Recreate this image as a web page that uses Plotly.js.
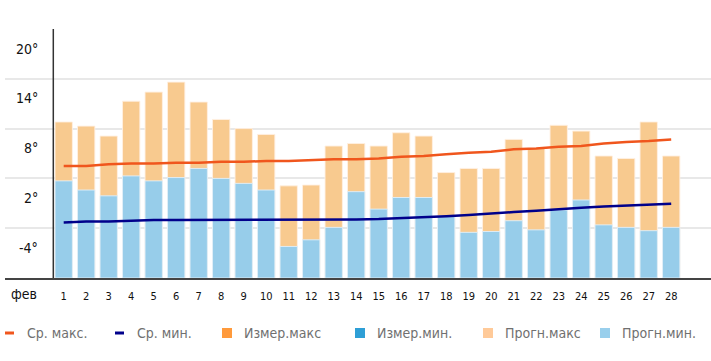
<!DOCTYPE html>
<html>
<head>
<meta charset="utf-8">
<script src="https://cdn.plot.ly/plotly-3.0.1.min.js"></script>
<style>html,body{margin:0;padding:0;background:#fff;}#chart{width:711px;height:361px;}</style>
</head>
<body>
<div id="chart"></div>
<script>
// ---- data ----
const days = [1,2,3,4,5,6,7,8,9,10,11,12,13,14,15,16,17,18,19,20,21,22,23,24,25,26,27,28];
const dayLabels = ["1","2","3","4","5","6","7","8","9","10","11","12","13","14","15","16","17","18","19","20","21","22","23","24","25","26","27","28"];
const monthLabel = "фев";
const forecastMax = [8.8,8.3,7.1,11.3,12.4,13.6,11.2,9.1,8.0,7.3,1.1,1.2,5.9,6.2,5.9,7.5,7.1,2.7,3.2,3.2,6.7,5.6,8.4,7.7,4.7,4.4,8.8,4.7];
const forecastMin = [1.7,0.6,-0.1,2.3,1.7,2.1,3.2,2.0,1.4,0.6,-6.2,-5.4,-3.9,0.4,-1.7,-0.3,-0.3,-2.5,-4.5,-4.4,-3.1,-4.2,-1.8,-0.6,-3.6,-3.9,-4.3,-3.9];
const avgMax = [3.5,3.5,3.7,3.8,3.8,3.9,3.9,4.0,4.0,4.1,4.1,4.2,4.3,4.3,4.4,4.6,4.7,4.9,5.1,5.2,5.5,5.6,5.8,5.9,6.2,6.4,6.5,6.7];
const avgMin = [-3.3,-3.2,-3.2,-3.1,-3.0,-3.0,-3.0,-3.0,-3.0,-3.0,-2.95,-2.95,-2.95,-2.95,-2.9,-2.8,-2.7,-2.55,-2.4,-2.2,-2.05,-1.9,-1.7,-1.55,-1.4,-1.3,-1.15,-1.05];
const yTicks = [20,14,8,2,-4];
const yTickLabels = ["20°","14°","8°","2°","-4°"];
const legendLabels = ["Ср. макс.","Ср. мин.","Измер.макс","Измер.мин.","Прогн.макс","Прогн.мин."];
const legendColors = ["#f0561d","#00008b","#ff9a3c","#2e9fd6","#ffca99","#99cfec"];
const legendKinds = ["line","line","box","box","box","box"];

// ---- layout constants ----
const W = 711, H = 361;
const M = {l:5, r:0, t:29, b:83};
const plotW = W - M.l - M.r, plotH = H - M.t - M.b;
const yMin = -10, yMax = 20;
const xMin = -1.609, xMax = xMin + plotW/22.5;
const FONT = "'DejaVu Sans Condensed', 'Liberation Sans Narrow', sans-serif";
const px2x = px => (px - M.l)/plotW;
const py2y = py => (H - M.b - py)/plotH;

const base = days.map(() => yMin);

const traces = [
  {type:'bar', x:days, y:forecastMax.map(v => v - yMin), base:base,
   marker:{color:'#f8ca8f', line:{color:'rgba(255,240,225,0.9)', width:1}}, hoverinfo:'skip', showlegend:false},
  {type:'bar', x:days, y:forecastMin.map(v => v - yMin), base:base,
   marker:{color:'#97cdea', line:{color:'rgba(225,240,250,0.9)', width:1}}, hoverinfo:'skip', showlegend:false},
  {type:'scatter', mode:'lines', x:days, y:avgMax, line:{color:'#f0561d', width:2.5}, hoverinfo:'skip', showlegend:false},
  {type:'scatter', mode:'lines', x:days, y:avgMin, line:{color:'#00008b', width:2.5}, hoverinfo:'skip', showlegend:false}
];

const annotations = [];
const shapes = [];

// y tick labels (drawn between gridlines like the original)
yTicks.forEach((v,i) => {
  annotations.push({xref:'paper', yref:'y', x:px2x(40), y:v - 2.35, xanchor:'right', yanchor:'middle',
    text:yTickLabels[i], showarrow:false, font:{family:FONT, size:14, color:'#111'}});
});
// month label
annotations.push({xref:'paper', yref:'paper', x:px2x(24), y:py2y(294), xanchor:'center', yanchor:'middle',
  text:monthLabel, showarrow:false, font:{family:FONT, size:14, color:'#111'}});

// vertical axis line
shapes.push({type:'line', xref:'paper', yref:'y', x0:px2x(53.3), x1:px2x(53.3), y0:yMin, y1:yMax,
  line:{color:'#333', width:1.5}, layer:'above'});

// legend
const legX = [5, 115, 222, 355, 483, 600];
const legY = 333;
legendLabels.forEach((t,i) => {
  const x0 = legX[i];
  if (legendKinds[i] === 'line') {
    shapes.push({type:'line', xref:'paper', yref:'paper', x0:px2x(x0), x1:px2x(x0+9), y0:py2y(legY), y1:py2y(legY),
      line:{color:legendColors[i], width:3}});
  } else {
    shapes.push({type:'rect', xref:'paper', yref:'paper', x0:px2x(x0), x1:px2x(x0+10), y0:py2y(legY-5), y1:py2y(legY+5),
      fillcolor:legendColors[i], line:{width:0}});
  }
  annotations.push({xref:'paper', yref:'paper', x:px2x(x0+20), y:py2y(legY), xanchor:'left', yanchor:'middle',
    text:t, showarrow:false, font:{family:FONT, size:14, color:'#707070'}});
});

const layout = {
  width:W, height:H, margin:M, paper_bgcolor:'#fff', plot_bgcolor:'#fff',
  barmode:'overlay', bargap:0.23, showlegend:false,
  xaxis:{range:[xMin,xMax], tickvals:days, ticktext:dayLabels, showgrid:false, zeroline:false,
    showline:true, linecolor:'#444', linewidth:2, ticks:'', ticklabelstandoff:7,
    tickfont:{family:FONT, size:11, color:'#111'}, fixedrange:true},
  yaxis:{range:[yMin,yMax], tickvals:yTicks, showticklabels:false, showgrid:true, gridcolor:'#e8e8e8', gridwidth:2,
    zeroline:false, showline:false, ticks:'', fixedrange:true},
  annotations:annotations, shapes:shapes
};

Plotly.newPlot('chart', traces, layout, {staticPlot:true, displayModeBar:false});
</script>
</body>
</html>
